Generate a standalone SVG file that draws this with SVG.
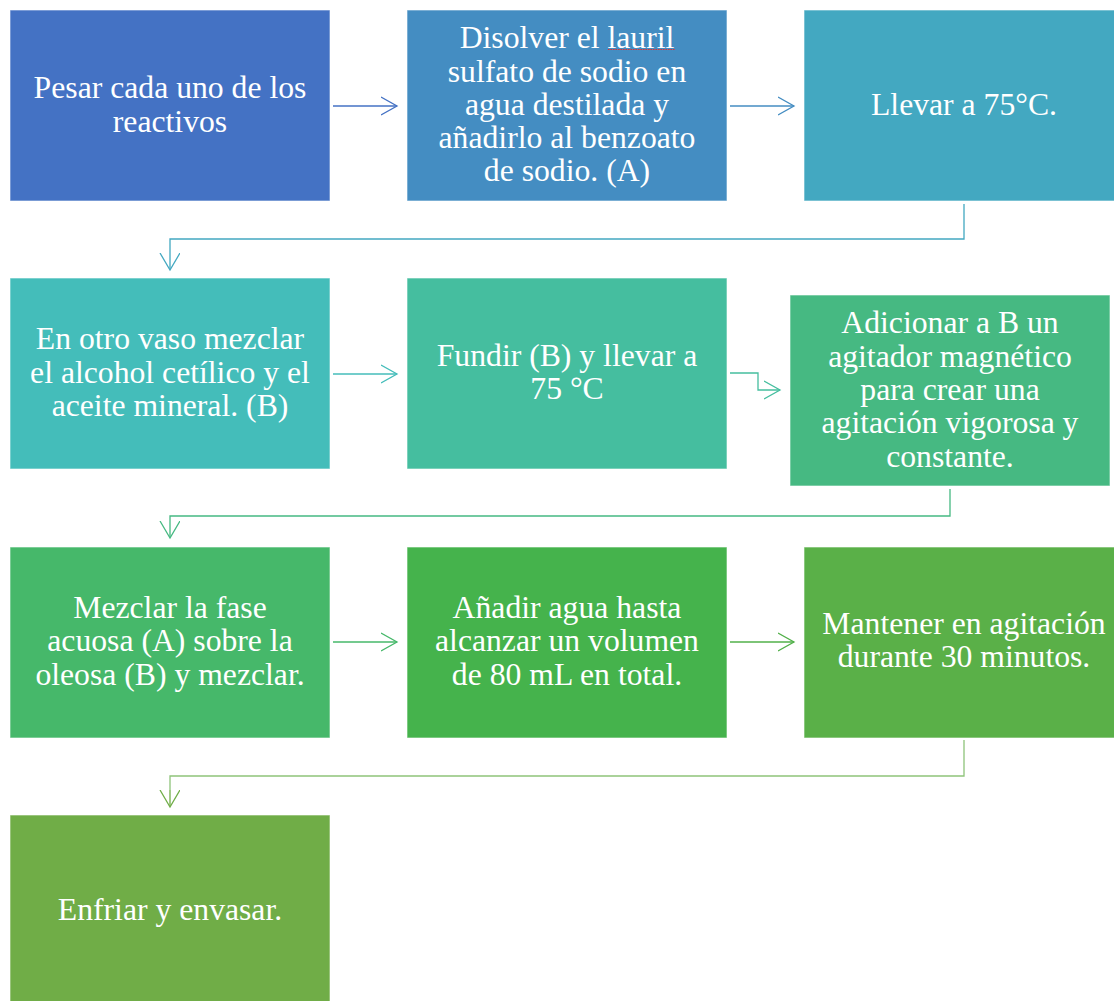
<svg xmlns="http://www.w3.org/2000/svg" width="1114" height="1001" viewBox="0 0 1114 1001">
<style>
.box{stroke:#ffffff;stroke-opacity:0.6;stroke-width:1}
.t{font-family:"Liberation Serif","Times New Roman",serif;font-size:31.7px;fill:#ffffff;text-anchor:middle}
.c{fill:none;stroke-width:1.3}
</style>
<defs>
<marker id="m1" markerUnits="userSpaceOnUse" markerWidth="20" markerHeight="22" refX="16" refY="10" orient="auto"><path d="M0,1 L16,10 L0,19" fill="none" stroke="#4472C4" stroke-width="1.3"/></marker>
<marker id="m2" markerUnits="userSpaceOnUse" markerWidth="20" markerHeight="22" refX="16" refY="10" orient="auto"><path d="M0,1 L16,10 L0,19" fill="none" stroke="#448DC2" stroke-width="1.3"/></marker>
<marker id="m3" markerUnits="userSpaceOnUse" markerWidth="20" markerHeight="22" refX="16" refY="10" orient="auto"><path d="M0,0 L17,10 L0,20" fill="none" stroke="#43A8C1" stroke-width="1.3"/></marker>
<marker id="m4" markerUnits="userSpaceOnUse" markerWidth="20" markerHeight="22" refX="16" refY="10" orient="auto"><path d="M0,1 L16,10 L0,19" fill="none" stroke="#44BDBA" stroke-width="1.3"/></marker>
<marker id="m5" markerUnits="userSpaceOnUse" markerWidth="20" markerHeight="22" refX="16" refY="10" orient="auto"><path d="M0,1 L16,10 L0,19" fill="none" stroke="#45BE9F" stroke-width="1.3"/></marker>
<marker id="m6" markerUnits="userSpaceOnUse" markerWidth="20" markerHeight="22" refX="16" refY="10" orient="auto"><path d="M0,0 L17,10 L0,20" fill="none" stroke="#46B982" stroke-width="1.3"/></marker>
<marker id="m7" markerUnits="userSpaceOnUse" markerWidth="20" markerHeight="22" refX="16" refY="10" orient="auto"><path d="M0,1 L16,10 L0,19" fill="none" stroke="#46B86A" stroke-width="1.3"/></marker>
<marker id="m8" markerUnits="userSpaceOnUse" markerWidth="20" markerHeight="22" refX="16" refY="10" orient="auto"><path d="M0,1 L16,10 L0,19" fill="none" stroke="#52B04A" stroke-width="1.3"/></marker>
<marker id="m9" markerUnits="userSpaceOnUse" markerWidth="20" markerHeight="22" refX="16" refY="10" orient="auto"><path d="M0,0 L17,10 L0,20" fill="none" stroke="#70AD47" stroke-width="1.3"/></marker>
</defs>
<rect width="1114" height="1001" fill="#ffffff"/>
<g id="connectors">
<path class="c" stroke="#4472C4" d="M333,106 H397" marker-end="url(#m1)"/>
<path class="c" stroke="#448DC2" d="M730,106 H794" marker-end="url(#m2)"/>
<path class="c" stroke="#43A8C1" d="M964,204 V239 H170 V269" marker-end="url(#m3)"/>
<path class="c" stroke="#44BDBA" d="M333,374 H397" marker-end="url(#m4)"/>
<path class="c" stroke="#45BE9F" d="M730,373 H758 V390 H780" marker-end="url(#m5)"/>
<path class="c" stroke="#46B982" d="M950,489 V516 H170 V537" marker-end="url(#m6)"/>
<path class="c" stroke="#46B86A" d="M333,642 H397" marker-end="url(#m7)"/>
<path class="c" stroke="#52B04A" d="M730,642 H794" marker-end="url(#m8)"/>
<path class="c" stroke="#8EC47A" d="M964,740 V776 H170 V790"/>
<path class="c" stroke="#70AD47" d="M170,790 V806" marker-end="url(#m9)"/>
</g>
<g id="n1"><rect class="box" x="10" y="10" width="320" height="191" fill="#4472C4"/>
<text class="t" x="170" y="98">Pesar cada uno de los</text><text class="t" x="170" y="132">reactivos</text></g>
<g id="n2"><rect class="box" x="407" y="10" width="320" height="191" fill="#448DC2"/>
<text class="t" x="567" y="48">Disolver el lauril</text><text class="t" x="567" y="82">sulfato de sodio en</text><text class="t" x="567" y="115">agua destilada y</text><text class="t" x="567" y="148">añadirlo al benzoato</text><text class="t" x="567" y="181">de sodio. (A)</text>
<path d="M608,49.5 L675,49.5" stroke="#E03030" stroke-width="1" stroke-dasharray="1.5,1" fill="none"/></g>
<g id="n3"><rect class="box" x="804" y="10" width="320" height="191" fill="#43A8C1"/>
<text class="t" x="964" y="115">Llevar a 75°C.</text></g>
<g id="n4"><rect class="box" x="10" y="278" width="320" height="191" fill="#44BDBA"/>
<text class="t" x="170" y="349">En otro vaso mezclar</text><text class="t" x="170" y="383">el alcohol cetílico y el</text><text class="t" x="170" y="416">aceite mineral. (B)</text></g>
<g id="n5"><rect class="box" x="407" y="278" width="320" height="191" fill="#45BE9F"/>
<text class="t" x="567" y="366">Fundir (B) y llevar a</text><text class="t" x="567" y="399">75 °C</text></g>
<g id="n6"><rect class="box" x="790" y="295" width="320" height="191" fill="#46B982"/>
<text class="t" x="950" y="333">Adicionar a B un</text><text class="t" x="950" y="367">agitador magnético</text><text class="t" x="950" y="400">para crear una</text><text class="t" x="950" y="433">agitación vigorosa y</text><text class="t" x="950" y="467">constante.</text></g>
<g id="n7"><rect class="box" x="10" y="547" width="320" height="191" fill="#46B86A"/>
<text class="t" x="170" y="618">Mezclar la fase</text><text class="t" x="170" y="651">acuosa (A) sobre la</text><text class="t" x="170" y="685">oleosa (B) y mezclar.</text></g>
<g id="n8"><rect class="box" x="407" y="547" width="320" height="191" fill="#45B34C"/>
<text class="t" x="567" y="618">Añadir agua hasta</text><text class="t" x="567" y="651">alcanzar un volumen</text><text class="t" x="567" y="685">de 80 mL en total.</text></g>
<g id="n9"><rect class="box" x="804" y="547" width="320" height="191" fill="#5AB048"/>
<text class="t" x="964" y="634">Mantener en agitación</text><text class="t" x="964" y="667">durante 30 minutos.</text></g>
<g id="n10"><rect class="box" x="10" y="815" width="320" height="191" fill="#70AD47"/>
<text class="t" x="170" y="920">Enfriar y envasar.</text></g>
</svg>
